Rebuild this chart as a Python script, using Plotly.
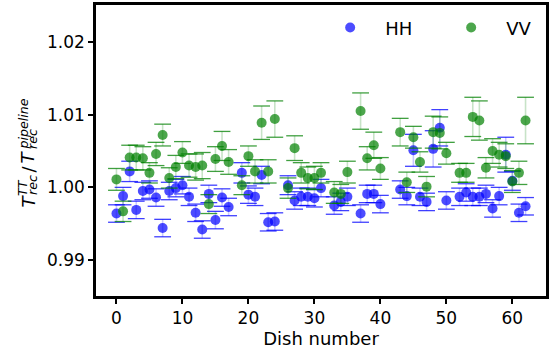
import plotly.graph_objects as go

# Dish numbers with valid measurements
dishes = [0, 1, 2, 3, 4, 5, 6, 7, 8, 9, 10, 11, 12, 13, 14, 15, 16, 17,
          19, 20, 21, 22, 23, 24, 26, 27, 28, 29, 30, 31, 33, 34, 35,
          37, 38, 39, 40, 43, 44, 45, 46, 47, 48, 49, 50,
          52, 53, 54, 55, 56, 57, 58, 59, 60, 61, 62]

# Ratio T_rec^TT / T_rec^pipeline, HH polarisation
hh_ratio = [0.9964, 0.9988, 1.0022, 0.9969, 0.9995, 0.9997, 0.9986, 0.9944, 0.9995, 0.9999,
            1.0003, 0.9987, 0.9965, 0.9942, 0.9991, 0.9955, 0.9986, 0.9973,
            1.0020, 0.9990, 0.9987, 1.0017, 0.9952, 0.9953, 1.0003, 0.9982, 0.9987, 0.9987,
            0.9985, 0.9999, 0.9975, 0.9980, 0.9987,
            0.9964, 0.9991, 0.9991, 0.9977, 0.9997, 0.9988, 1.0051, 0.9987, 0.9980, 1.0053,
            1.0082, 0.9982,
            0.9987, 0.9993, 0.9987, 0.9987, 0.9991, 0.9971, 0.9988, 1.0045, 1.0009, 0.9965, 0.9974]
hh_err = [0.0012, 0.0012, 0.0014, 0.0012, 0.0012, 0.0012, 0.0012, 0.0012, 0.0012, 0.0012,
          0.0012, 0.0012, 0.0012, 0.0012, 0.0012, 0.0012, 0.0012, 0.0012,
          0.0014, 0.0012, 0.0012, 0.0012, 0.0012, 0.0012, 0.0013, 0.0012, 0.0012, 0.0012,
          0.0012, 0.0012, 0.0012, 0.0012, 0.0012,
          0.0012, 0.0012, 0.0012, 0.0012, 0.0012, 0.0012, 0.0022, 0.0012, 0.0012, 0.0025,
          0.0025, 0.0012,
          0.0012, 0.0012, 0.0012, 0.0012, 0.0012, 0.0012, 0.0012, 0.0024, 0.0013, 0.0012, 0.0012]

# Same ratio, VV polarisation
vv_ratio = [1.0011, 0.9967, 1.0041, 1.0041, 1.0040, 1.0020, 1.0046, 1.0072, 1.0013, 1.0028,
            1.0048, 1.0030, 1.0028, 1.0030, 0.9977, 1.0039, 1.0057, 1.0035,
            1.0003, 1.0043, 1.0022, 1.0089, 1.0022, 1.0094, 0.9999, 1.0054, 1.0020, 1.0013,
            1.0013, 1.0020, 0.9993, 0.9991, 1.0021,
            1.0105, 1.0040, 1.0058, 1.0026, 1.0076, 1.0007, 1.0069, 1.0035, 1.0001, 1.0076,
            1.0075, 1.0047,
            1.0020, 1.0020, 1.0097, 1.0092, 1.0027, 1.0050, 1.0045, 1.0043, 1.0008, 1.0020, 1.0092]
vv_err = [0.0015, 0.0014, 0.0017, 0.0017, 0.0016, 0.0014, 0.0016, 0.0015, 0.0014, 0.0016,
          0.0015, 0.0016, 0.0018, 0.0018, 0.0013, 0.0017, 0.0020, 0.0017,
          0.0013, 0.0014, 0.0016, 0.0023, 0.0016, 0.0025, 0.0014, 0.0017, 0.0014, 0.0015,
          0.0016, 0.0014, 0.0015, 0.0013, 0.0015,
          0.0025, 0.0016, 0.0018, 0.0015, 0.0019, 0.0014, 0.0015, 0.0014, 0.0014, 0.0022,
          0.0022, 0.0015,
          0.0013, 0.0013, 0.0027, 0.0027, 0.0014, 0.0017, 0.0017, 0.0017, 0.0015, 0.0016, 0.0032]

x_ticks = [0, 10, 20, 30, 40, 50, 60]
y_ticks = [0.99, 1.00, 1.01, 1.02]

FONT = "DejaVu Sans"
series = [
    ("HH", hh_ratio, hh_err, (0, 0, 255)),
    ("VV", vv_ratio, vv_err, (0, 128, 0)),
]

fig = go.Figure()
for name, vals, errs, (r, g, b) in series:
    # caps at both ends of each error bar
    cap_x = dishes + dishes
    cap_y = [v + e for v, e in zip(vals, errs)] + [v - e for v, e in zip(vals, errs)]
    fig.add_trace(go.Scatter(
        x=cap_x, y=cap_y, mode="markers", showlegend=False, hoverinfo="skip",
        marker=dict(symbol="line-ew", size=12,
                    line=dict(color=f"rgba({r},{g},{b},0.75)", width=1.3)),
    ))
    # points with faint vertical error lines
    fig.add_trace(go.Scatter(
        x=dishes, y=vals, mode="markers", name=name,
        marker=dict(size=10, color=f"rgba({r},{g},{b},0.7)", line=dict(width=0)),
        error_y=dict(type="data", array=errs, visible=True, width=0,
                     thickness=1.6, color=f"rgba({r},{g},{b},0.22)"),
    ))

axis_common = dict(
    showline=True, linecolor="black", linewidth=2.5, mirror=True,
    ticks="outside", ticklen=5, tickwidth=1.5, tickcolor="black",
    showgrid=False, zeroline=False, automargin=False,
    tickfont=dict(family=FONT, size=17, color="black"),
)
fig.update_xaxes(range=[-3.1, 65.1], tickvals=x_ticks,
                 title=dict(text="Dish number", font=dict(family=FONT, size=18, color="black"),
                            standoff=6),
                 **axis_common)
fig.update_yaxes(range=[0.98505, 1.0251], tickvals=y_ticks, tickformat=".2f",
                 **axis_common)

# y-axis label built from pieces so sub- and superscripts stack
L, T, W, H = 96, 5, 450, 291


def px(xp, yp):
    return (xp - L) / W, (T + H - yp) / H


label_parts = [
    ("<i>T</i>", 18, 27.5, 201),
    ("<i>TT</i>", 12.6, 22.5, 187.5),
    ("<i>rec</i>", 12.6, 32.5, 185.5),
    ("/", 18, 27.5, 169),
    ("<i>T</i>", 18, 27.5, 157),
    ("<i>pipeline</i>", 12.6, 22.5, 124),
    ("<i>rec</i>", 12.6, 32.5, 139.5),
]
for text, size, xp, yp in label_parts:
    ax, ay = px(xp, yp)
    fig.add_annotation(text=text, xref="paper", yref="paper", x=ax, y=ay,
                       xanchor="center", yanchor="middle", textangle=-90,
                       showarrow=False, font=dict(family=FONT, size=size, color="black"))

fig.update_layout(
    width=551, height=354,
    margin=dict(l=L, r=5, t=T, b=58, pad=0, autoexpand=False),
    paper_bgcolor="white", plot_bgcolor="white",
    font=dict(family=FONT, color="black"),
    legend=dict(orientation="h", x=0.487, y=0.985, xanchor="left", yanchor="top",
                bgcolor="rgba(0,0,0,0)", font=dict(family=FONT, size=18),
                itemwidth=60, entrywidth=46, entrywidthmode="pixels"),
)

fig.write_html("out.html")
